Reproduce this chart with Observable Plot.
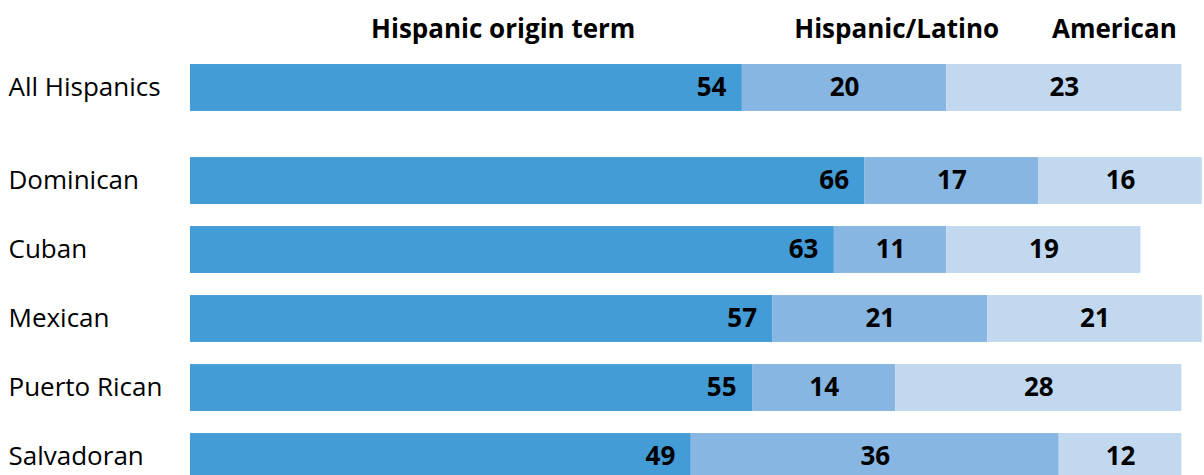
<!DOCTYPE html>
<html><head><meta charset="utf-8">
<script src="https://cdn.jsdelivr.net/npm/d3@7"></script>
<script src="https://cdn.jsdelivr.net/npm/@observablehq/plot@0.6"></script>
<style>body{margin:0;background:#fff;} svg{display:block}</style>
</head><body><div id="chart"></div>
<script>
const categories = ["All Hispanics","Dominican","Cuban","Mexican","Puerto Rican","Salvadoran"];
const seriesNames = ["Hispanic origin term","Hispanic/Latino","American"];
const originTerm = [54,66,63,57,55,49];
const hispanicLatino = [20,17,11,21,14,36];
const american = [23,16,19,21,28,12];
const colors = ["#439cd6","#86b6e1","#c1d8ef"];

// layout: row slots (extra gap after "All Hispanics")
const slot = categories.map((c,i)=> i===0 ? 0 : i + 0.348);
const half = 0.34;
const rows = [];
categories.forEach((c,i)=>{
  const vals=[originTerm[i],hispanicLatino[i],american[i]];
  let acc=0;
  vals.forEach((v,k)=>{ rows.push({category:c, series:seriesNames[k], value:v, x1:acc, x2:acc+v, pos:slot[i], k}); acc+=v;});
});
const headerX = [30.6, 69.1, 90.4];
const font = "'Open Sans', 'Noto Sans', sans-serif";

const chart = Plot.plot({
  width: 1204, height: 475,
  marginLeft: 0, marginRight: 0, marginTop: 0, marginBottom: 0,
  style: {fontFamily: font, background: "#fff", color: "#000"},
  x: {domain: [0, 100], range: [190, 1212], axis: null},
  y: {domain: [-1.268, 5.616], range: [0, 475], axis: null},
  color: {domain: seriesNames, range: colors},
  marks: [
    Plot.rect(rows, {x1:"x1", x2:"x2", y1:d=>d.pos-half, y2:d=>d.pos+half, fill:"series"}),
    Plot.text(rows.filter(d=>d.k===0), {x:"x2", y:"pos", text:d=>String(d.value), textAnchor:"end", dx:-16, fontWeight:"bold", fontSize:26, fill:"#000"}),
    Plot.text(rows.filter(d=>d.k>0), {x:d=>(d.x1+d.x2)/2, y:"pos", text:d=>String(d.value), textAnchor:"middle", fontWeight:"bold", fontSize:26, fill:"#000"}),
    Plot.text(categories, {y:(d,i)=>slot[i], text:d=>d, frameAnchor:"left", textAnchor:"start", dx:8, fontSize:26, fill:"#000"}),
    Plot.text(seriesNames, {x:(d,i)=>headerX[i], text:d=>d, frameAnchor:"top", dy:19, textAnchor:"middle", fontWeight:"bold", fontSize:26, fill:"#000"})
  ]
});
document.getElementById("chart").appendChild(chart);
</script>
</body></html>
